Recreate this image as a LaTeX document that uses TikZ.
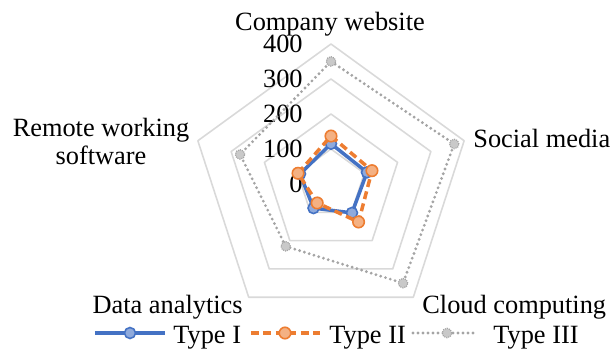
\documentclass[tikz,border=0pt]{standalone}
\usepackage{fontspec}
\setmainfont{Liberation Serif}
\definecolor{gridgray}{HTML}{D9D9D9}
\definecolor{oneblue}{HTML}{4472C4}
\definecolor{onefill}{HTML}{8FAADC}
\definecolor{twoorange}{HTML}{ED7D31}
\definecolor{twofill}{HTML}{F4B183}
\definecolor{threegray}{HTML}{A5A5A5}
\definecolor{threefill}{HTML}{C9C9C9}
\tikzset{
  grid line/.style={draw=gridgray, line width=0.9pt, line join=round},
  type one/.style={draw=oneblue, line width=2pt, line join=round},
  type two/.style={draw=twoorange, line width=2pt, dash pattern=on 0.16cm off 0.09cm, line join=round},
  type three/.style={draw=threegray, line width=1.8pt, dash pattern=on 0pt off 0.1cm, line cap=round},
  mark one/.style={circle, draw=oneblue, fill=onefill, line width=0.9pt, inner sep=0pt, minimum size=0.22cm},
  mark two/.style={circle, draw=twoorange, fill=twofill, line width=0.9pt, inner sep=0pt, minimum size=0.23cm},
  mark three/.style={circle, draw=threegray, fill=threefill, line width=0.7pt, dash pattern=on 0.6pt off 0.6pt, inner sep=0pt, minimum size=0.19cm},
  cat label/.style={inner sep=0pt},
  tick label/.style={anchor=east, inner sep=0pt}
}
\begin{document}
\begin{tikzpicture}[font=\fontsize{15}{16}\selectfont]
        \useasboundingbox (-6.62,-3.30) rectangle (5.58,3.68);

        % rings
        \foreach \r in {1,...,4}
            \draw[grid line] (90:\r*0.7) -- (18:\r*0.7) -- (-54:\r*0.7) -- (-126:\r*0.7) -- (162:\r*0.7) -- cycle;

        % tick labels
        \foreach \t [count=\k from 0] in {0,100,200,300,400}
            \node[tick label] (tick\k) at (-0.56,\k*0.7) {\t};

        % categories
        \node[cat label, anchor=base] (web) at (-0.02,3.08) {Company website};
        \node[cat label, anchor=base west] (social) at (2.84,0.74) {Social media};
        \node[cat label, anchor=base west] (cloud) at (1.82,-2.58) {Cloud computing};
        \node[cat label, anchor=base east] (data) at (-1.76,-2.58) {Data analytics};
        \node[cat label, align=center] (remote) at (-4.6,0.85) {Remote working\\software};

        % data points
        \foreach \v [count=\i from 0] in {115,108,102,85,93}
            \coordinate (a\i) at ({90-72*\i}:{\v*0.007});
        \foreach \v [count=\i from 0] in {137,123,134,67,99}
            \coordinate (b\i) at ({90-72*\i}:{\v*0.007});
        \foreach \v [count=\i from 0] in {350,370,350,220,273}
            \coordinate (c\i) at ({90-72*\i}:{\v*0.007});

        \draw[type one] (a0) -- (a1) -- (a2) -- (a3) -- (a4) -- cycle;
        \foreach \i in {0,...,4}
            \node[mark one] (ma\i) at (a\i) {};
        \draw[type two] (b0) -- (b1) -- (b2) -- (b3) -- (b4) -- cycle;
        \foreach \i in {0,...,4}
            \node[mark two] (mb\i) at (b\i) {};
        \draw[type three] (c0) -- (c1) -- (c2) -- (c3) -- (c4) -- cycle;
        \foreach \i in {0,...,4}
            \node[mark three] (mc\i) at (c\i) {};

        % legend
        \coordinate (la1) at (-4.72,-2.98);
        \coordinate (lb1) at (-3.32,-2.98);
        \draw[type one] (la1) -- (lb1);
        \node[mark one] (key1) at (-4.02,-2.98) {};
        \node[anchor=base west, inner sep=0pt] (leg1) at (-3.16,-3.18) {Type I};

        \coordinate (la2) at (-1.60,-2.98);
        \coordinate (lb2) at (-0.22,-2.98);
        \draw[type two] (la2) -- (lb2);
        \node[mark two] (key2) at (-0.92,-2.98) {};
        \node[anchor=base west, inner sep=0pt] (leg2) at (-0.04,-3.18) {Type II};

        \coordinate (la3) at (1.64,-2.98);
        \coordinate (lb3) at (2.94,-2.98);
        \draw[type three] (la3) -- (lb3);
        \node[mark three] (key3) at (2.32,-2.98) {};
        \node[anchor=base west, inner sep=0pt] (leg3) at (3.24,-3.18) {Type III};

    \end{tikzpicture}
\end{document}
